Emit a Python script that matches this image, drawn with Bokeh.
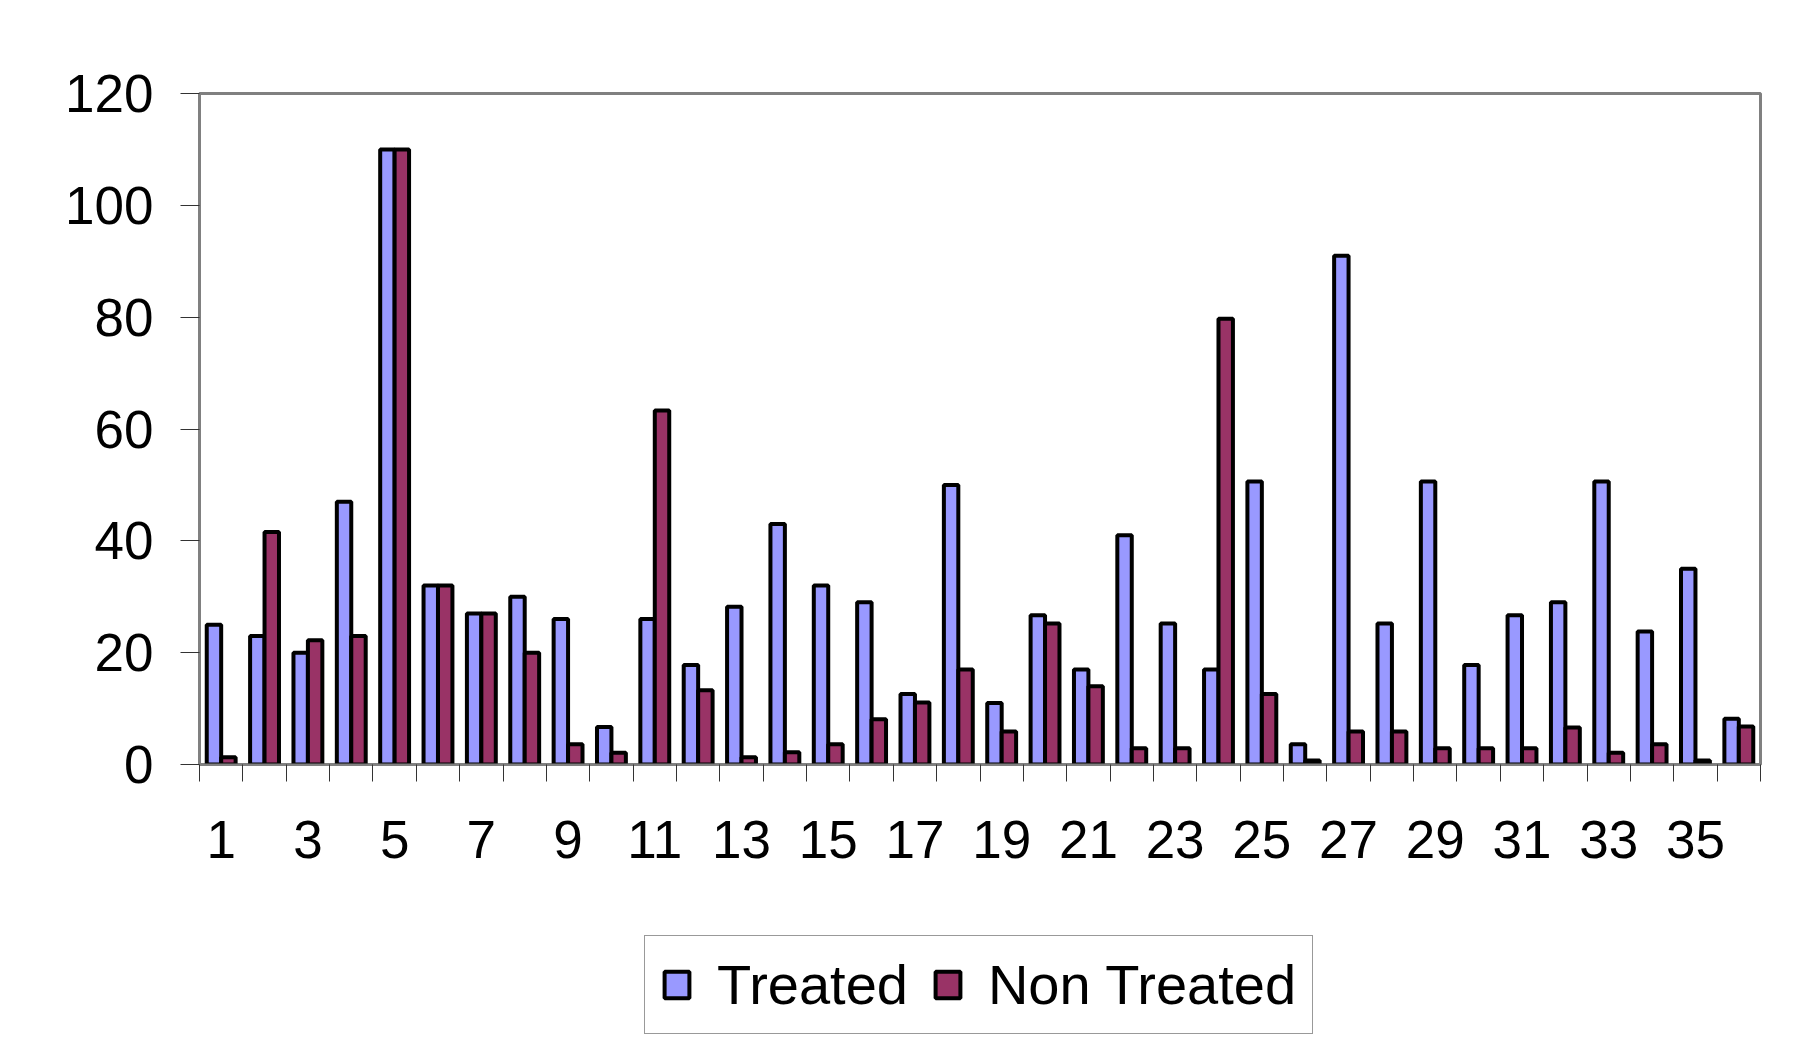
from bokeh.plotting import figure
from bokeh.models import Range1d, FixedTicker, Legend, LegendItem, ColumnDataSource
from bokeh.layouts import column
from bokeh.transform import dodge
from bokeh.embed import file_html
from bokeh.resources import INLINE

categories = list(range(1, 37))
treated = [25, 23, 20, 47, 110, 32, 27, 30, 26, 6.7, 26, 17.8, 28.2, 43, 32, 29,
           12.6, 50, 11, 26.7, 17, 41, 25.2, 17, 50.6, 3.6, 91, 25.2, 50.6, 17.8,
           26.7, 29, 50.6, 23.8, 35, 8.2]
non_treated = [1.3, 41.6, 22.2, 23, 110, 32, 27, 20, 3.6, 2.1, 63.3, 13.3, 1.3, 2.2,
               3.6, 8.1, 11.1, 17, 5.9, 25.2, 14, 2.9, 2.9, 79.7, 12.6, 0.7, 5.9, 5.9,
               2.9, 2.9, 2.9, 6.6, 2.1, 3.6, 0.7, 6.8]
y_ticks = [0, 20, 40, 60, 80, 100, 120]
x_tick_labels = {c: str(c) for c in categories if c % 2 == 1}
series_names = ["Treated", "Non Treated"]
series_colors = ["#9999FF", "#993366"]

src = ColumnDataSource(dict(x=categories, t=treated, n=non_treated))

FONT = "Liberation Sans"
W = 1792
H_TOP = 880
H_BOT = 160

p = figure(width=W, height=H_TOP, output_backend="svg", toolbar_location=None,
           x_range=Range1d(0.5, len(categories) + 0.5), y_range=Range1d(0, 120),
           min_border_left=199, min_border_top=93, min_border_right=32,
           min_border_bottom=H_TOP - 764)
p.background_fill_color = "white"
p.border_fill_color = "white"
p.outline_line_color = "#808080"
p.outline_line_width = 3
p.xgrid.visible = False
p.ygrid.visible = False

bw = 0.333
bar_style = dict(line_color="black", line_width=4)
p.vbar(x=dodge("x", -bw / 2, range=p.x_range), top="t", width=bw, source=src,
       fill_color=series_colors[0], **bar_style)
p.vbar(x=dodge("x", bw / 2, range=p.x_range), top="n", width=bw, source=src,
       fill_color=series_colors[1], **bar_style)

# y axis
p.yaxis.ticker = FixedTicker(ticks=y_ticks)
p.yaxis.major_tick_out = 19
p.yaxis.major_tick_in = 0
p.yaxis.minor_tick_out = 0
p.yaxis.major_tick_line_color = "#333333"
p.yaxis.axis_line_color = "#808080"
p.yaxis.axis_line_width = 2
p.yaxis.major_label_text_font = FONT
p.yaxis.major_label_text_font_size = "53px"
p.yaxis.major_label_text_color = "black"
p.yaxis.major_label_standoff = 27

# x axis: labels at odd categories, ticks at category boundaries
p.xaxis.ticker = FixedTicker(ticks=[c for c in x_tick_labels],
                             minor_ticks=[c - 0.5 for c in categories] + [len(categories) + 0.5])
p.xaxis.major_label_overrides = x_tick_labels
p.xaxis.major_tick_out = 0
p.xaxis.major_tick_in = 0
p.xaxis.minor_tick_out = 17
p.xaxis.minor_tick_in = 0
p.xaxis.minor_tick_line_color = "#333333"
p.xaxis.axis_line_color = "#808080"
p.xaxis.axis_line_width = 2
p.xaxis.major_label_text_font = FONT
p.xaxis.major_label_text_font_size = "53px"
p.xaxis.major_label_text_color = "black"
p.xaxis.major_label_standoff = 39

# legend figure (holds only the legend); its frame is aligned with the chart's frame
pl = figure(width=W, height=H_BOT, output_backend="svg", toolbar_location=None,
            x_range=Range1d(0, 1), y_range=Range1d(0, 1),
            x_axis_type=None, y_axis_type=None,
            min_border_left=0, min_border_right=0, min_border_top=0, min_border_bottom=0)
pl.outline_line_color = None
pl.background_fill_color = "white"
pl.border_fill_color = "white"
pl.xgrid.visible = False
pl.ygrid.visible = False
# proxy glyphs hidden behind the opaque legend box, used only for the legend swatches
e1 = pl.vbar(x=[0.5], top=[0.35], bottom=[0.3], width=0.01, fill_color=series_colors[0], **bar_style)
e2 = pl.vbar(x=[0.5], top=[0.35], bottom=[0.3], width=0.01, fill_color=series_colors[1], **bar_style)

legend = Legend(items=[LegendItem(label=series_names[0], renderers=[e1]),
                       LegendItem(label=series_names[1], renderers=[e2])],
                orientation="horizontal", location=(445, 6))
legend.label_text_font = FONT
legend.label_text_font_size = "56px"
legend.label_text_color = "black"
legend.glyph_width = 31
legend.glyph_height = 33
legend.label_standoff = 25
legend.spacing = 24
legend.padding = 16
legend.margin = 0
legend.border_line_color = "#333333"
legend.border_line_width = 1
legend.background_fill_color = "white"
legend.background_fill_alpha = 1
pl.add_layout(legend, "center")

layout = column(p, pl, spacing=0)
open("out.html", "w").write(file_html(layout, INLINE))
